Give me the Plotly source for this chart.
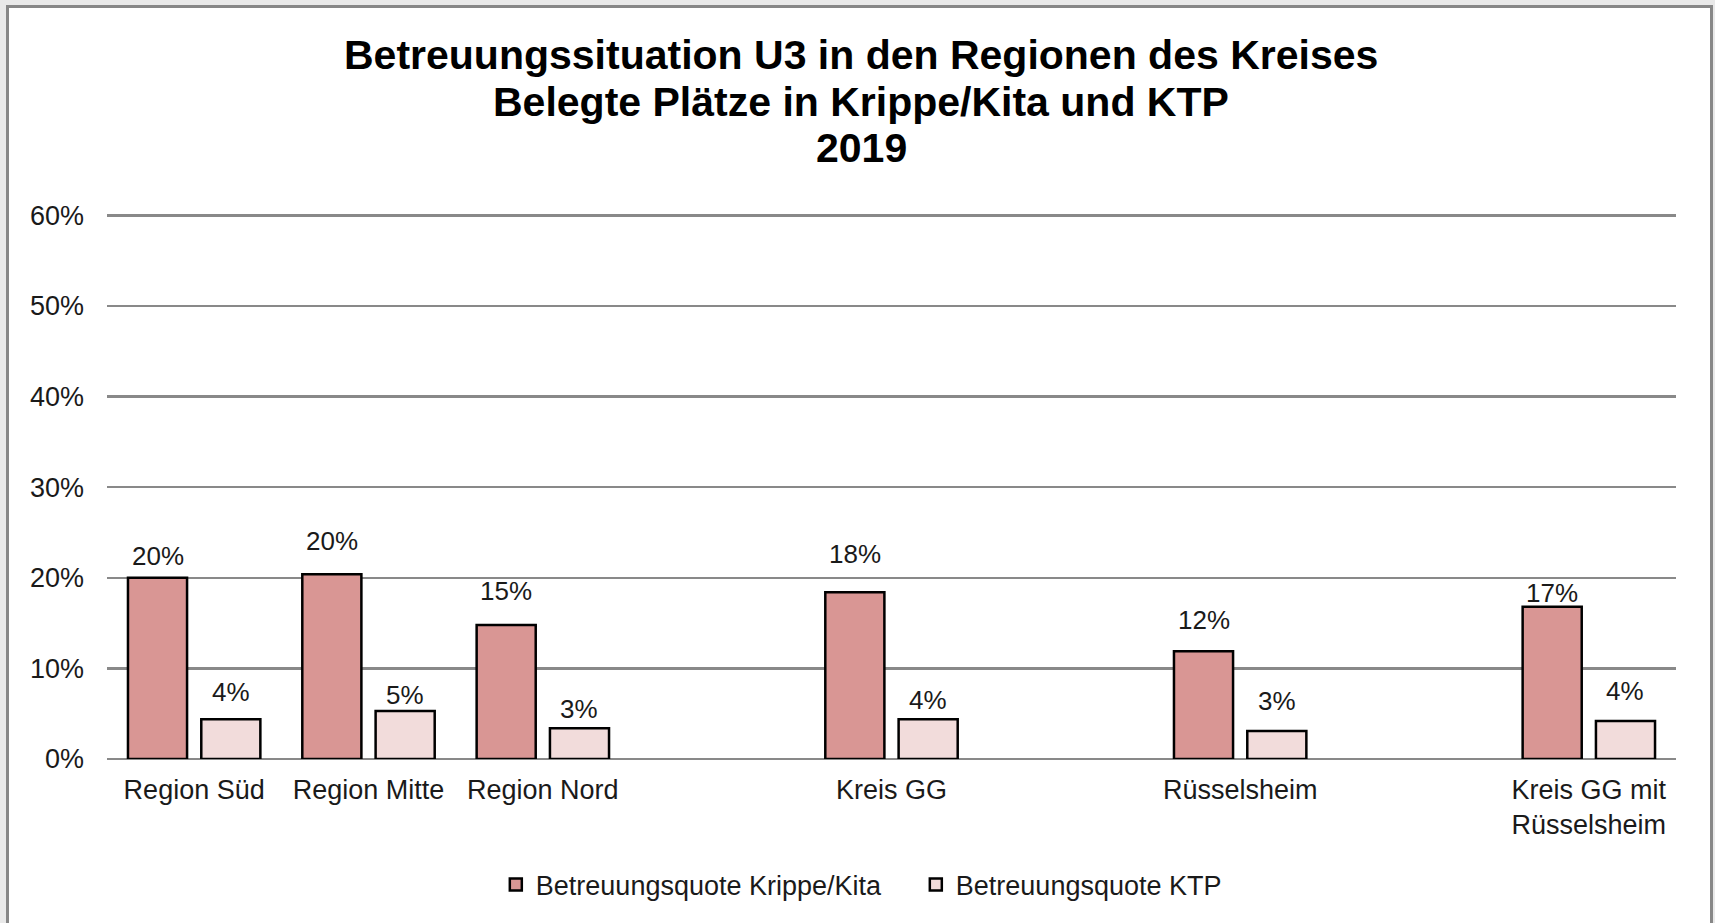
import plotly.graph_objects as go

# Betreuungsquoten U3 2019 (Anteil), leere Kategorien als Abstandhalter
categories = [
    "Region Süd",
    "Region Mitte",
    "Region Nord",
    " ",
    "Kreis GG",
    "  ",
    "Rüsselsheim",
    "   ",
    "Kreis GG mit<br>Rüsselsheim",
]
quote_kita = [0.200, 0.204, 0.148, None, 0.184, None, 0.119, None, 0.168]
quote_ktp = [0.044, 0.053, 0.034, None, 0.044, None, 0.031, None, 0.042]
series_names = ["Betreuungsquote Krippe/Kita", "Betreuungsquote KTP"]
y_ticks = [0, 0.1, 0.2, 0.3, 0.4, 0.5, 0.6]
title_lines = [
    "Betreuungssituation U3 in den Regionen des Kreises",
    "Belegte Plätze in Krippe/Kita und KTP",
    "2019",
]

# styling
W, H = 1715, 923
ML, MR, MT, MB = 107, 39, 210, 164
Y_TOP = 0.606  # a bit above 60% so the top gridline is drawn
FONT = "Arial, Liberation Sans, sans-serif"
COL_KITA = "#d99694"
COL_KTP = "#f2dcdb"
GRID = "#898989"
BARGAP = 0.159
BARGROUPGAP = 0.194
# label distance above bar top (px), tweaked per label like in the original
shift_kita = [22, 33, 34, 0, 38, 0, 31, 0, 14]
shift_ktp = [27, 16, 19, 0, 19, 0, 30, 0, 30]

plot_w = W - ML - MR
plot_h = H - MT - MB


def px_x(px):
    return (px - ML) / plot_w


def px_y(py):
    return (H - MB - py) / plot_h


fig = go.Figure()
for name, vals, col in [
    (series_names[0], quote_kita, COL_KITA),
    (series_names[1], quote_ktp, COL_KTP),
]:
    fig.add_trace(
        go.Bar(
            x=categories,
            y=vals,
            name=name,
            marker=dict(color=col, line=dict(color="#000000", width=2.5)),
            hoverinfo="skip",
        )
    )

# data labels
slot = (1 - BARGAP) / 2
annotations = []
for i, cat in enumerate(categories):
    for vals, shifts, sign in [(quote_kita, shift_kita, -1), (quote_ktp, shift_ktp, 1)]:
        v = vals[i]
        if v is None:
            continue
        annotations.append(
            dict(
                x=i + sign * slot / 2,
                y=v,
                xref="x",
                yref="y",
                text="{:.0%}".format(v),
                showarrow=False,
                yanchor="middle",
                yshift=shifts[i],
                font=dict(family=FONT, size=26, color="#1a1a1a"),
            )
        )

# title lines (Excel-like tight line spacing)
for line, py in zip(title_lines, [55, 102, 148]):
    annotations.append(
        dict(
            x=px_x(861),
            y=px_y(py),
            xref="paper",
            yref="paper",
            text="<b>" + line + "</b>",
            showarrow=False,
            xanchor="center",
            yanchor="middle",
            font=dict(family=FONT, size=41, color="#000000"),
        )
    )

# outer frame like the exported chart area
shapes = [
    dict(
        type="rect",
        xref="paper",
        yref="paper",
        x0=px_x(7.5),
        x1=px_x(1711.5),
        y0=px_y(940),
        y1=px_y(6.5),
        line=dict(color="#878787", width=3),
        fillcolor="#ffffff",
        layer="below",
    )
]

fig.update_layout(
    width=W,
    height=H,
    margin=dict(l=ML, r=MR, t=MT, b=MB, autoexpand=False),
    paper_bgcolor="#e9e9e9",
    plot_bgcolor="#ffffff",
    barmode="group",
    bargap=BARGAP,
    bargroupgap=BARGROUPGAP,
    font=dict(family=FONT, size=27, color="#1a1a1a"),
    annotations=annotations,
    shapes=shapes,
    showlegend=True,
    legend=dict(
        orientation="h",
        xref="container",
        yref="container",
        x=0.534,
        y=1 - 885 / H,
        xanchor="center",
        yanchor="middle",
        entrywidth=375,
        entrywidthmode="pixels",
        font=dict(family=FONT, size=27, color="#1a1a1a"),
        bgcolor="rgba(0,0,0,0)",
        itemclick=False,
    ),
    xaxis=dict(
        type="category",
        showgrid=False,
        showline=False,
        ticks="",
        ticklabelstandoff=12,
        tickfont=dict(family=FONT, size=27, color="#1a1a1a"),
        fixedrange=True,
    ),
    yaxis=dict(
        range=[0, Y_TOP],
        tickvals=y_ticks,
        tickformat=".0%",
        showgrid=True,
        gridcolor=GRID,
        gridwidth=2.5,
        zeroline=True,
        zerolinecolor=GRID,
        zerolinewidth=2.5,
        showline=False,
        ticks="",
        ticklabelstandoff=22,
        tickfont=dict(family=FONT, size=27, color="#1a1a1a"),
        fixedrange=True,
    ),
)

# page without the default body margin so the chart sits at the window origin
fig.write_html(
    "out.html",
    config={"displayModeBar": False, "staticPlot": True},
    post_script="document.body.style.margin='0';document.body.style.overflow='hidden';",
)
